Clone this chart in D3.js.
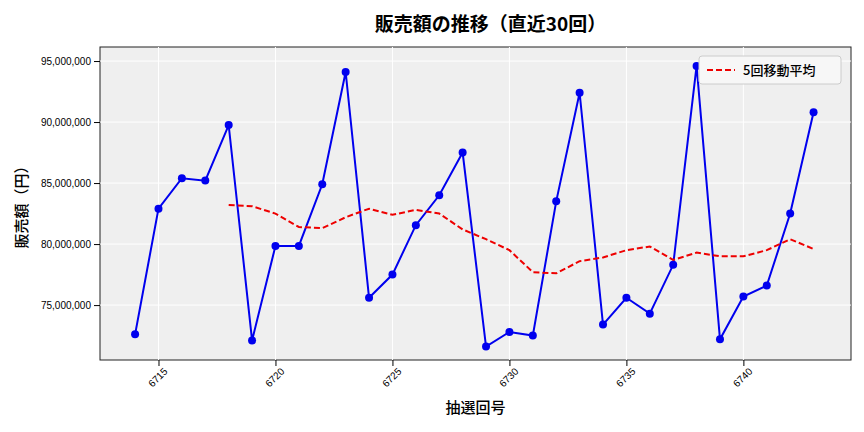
<!DOCTYPE html>
<html><head><meta charset="utf-8">
<script src="https://cdn.jsdelivr.net/npm/d3@7"></script>
<style>body{margin:0;background:#fff;font-family:"Noto Sans CJK JP","Noto Sans",sans-serif;}</style>
</head><body><div id="chart"></div>
<script>
const draws = d3.range(6714, 6744);
const sales = [72.6, 82.9, 85.4, 85.2, 89.75, 72.1, 79.85, 79.85, 84.9, 94.1,
  75.6, 77.5, 81.55, 84.0, 87.5, 71.6, 72.8, 72.5, 83.5, 92.4,
  73.4, 75.6, 74.3, 78.3, 94.6, 72.2, 75.7, 76.6, 82.5, 90.8].map(v => v * 1e6);
const maDraws = d3.range(6718, 6744);
const maValues = [83.2, 83.1, 82.5, 81.4, 81.3, 82.2, 82.9, 82.4, 82.8, 82.5,
  81.2, 80.4, 79.5, 77.7, 77.6, 78.6, 78.9, 79.5, 79.8, 78.7,
  79.3, 79.0, 79.0, 79.5, 80.4, 79.6].map(v => v * 1e6);
const xTicks = [6715, 6720, 6725, 6730, 6735, 6740];
const yTicks = [75e6, 80e6, 85e6, 90e6, 95e6];

const W = 864, H = 432, m = {l: 100, r: 13, t: 47, b: 72};
const svg = d3.select("#chart").append("svg").attr("width", W).attr("height", H);
const x = d3.scaleLinear().domain([6712.5, 6744.6]).range([m.l, W - m.r]);
const y = d3.scaleLinear().domain([70.5e6, 96.15e6]).range([H - m.b, m.t]);

svg.append("rect").attr("x", m.l).attr("y", m.t).attr("width", W - m.l - m.r)
  .attr("height", H - m.t - m.b).attr("fill", "#efefef").attr("stroke", "#222");

const g = svg.append("g");
g.selectAll(".gx").data(xTicks).join("line")
  .attr("x1", d => x(d)).attr("x2", d => x(d)).attr("y1", m.t).attr("y2", H - m.b)
  .attr("stroke", "#fff").attr("stroke-width", 1);
g.selectAll(".gy").data(yTicks).join("line")
  .attr("y1", d => y(d)).attr("y2", d => y(d)).attr("x1", m.l).attr("x2", W - m.r)
  .attr("stroke", "#fff").attr("stroke-width", 1);

const xa = svg.append("g").attr("transform", `translate(0,${H - m.b})`)
  .call(d3.axisBottom(x).tickValues(xTicks).tickFormat(d3.format("d")).tickSizeOuter(0));
xa.select(".domain").remove();
xa.selectAll("text").attr("font-size", 10).attr("fill", "#000").attr("text-anchor", "end")
  .attr("transform", "rotate(-45)").attr("dx", "-0.2em").attr("dy", "0.6em");
const ya = svg.append("g").attr("transform", `translate(${m.l},0)`)
  .call(d3.axisLeft(y).tickValues(yTicks).tickFormat(d3.format(",")).tickSizeOuter(0));
ya.select(".domain").remove();
ya.selectAll("text").attr("font-size", 10).attr("fill", "#000");

const line = d3.line().x(d => x(d[0])).y(d => y(d[1]));
const pts = draws.map((d, i) => [d, sales[i]]);
svg.append("path").datum(pts).attr("d", line).attr("fill", "none")
  .attr("stroke", "#0000ee").attr("stroke-width", 2);
svg.selectAll(".pt").data(pts).join("circle")
  .attr("cx", d => x(d[0])).attr("cy", d => y(d[1])).attr("r", 4).attr("fill", "#0000ee");
svg.append("path").datum(maDraws.map((d, i) => [d, maValues[i]])).attr("d", line)
  .attr("fill", "none").attr("stroke", "#ee0000").attr("stroke-width", 2)
  .attr("stroke-dasharray", "6,3");

// legend
const lg = svg.append("g").attr("transform", "translate(699,56)");
lg.append("rect").attr("width", 142).attr("height", 28).attr("rx", 3)
  .attr("fill", "#f7f7f7").attr("stroke", "#ccc");
lg.append("line").attr("x1", 8).attr("x2", 36).attr("y1", 14).attr("y2", 14)
  .attr("stroke", "#ee0000").attr("stroke-width", 2).attr("stroke-dasharray", "6,3");
lg.append("text").attr("x", 44).attr("y", 19).attr("font-size", 13).attr("font-weight", 500).text("5回移動平均");

svg.append("text").attr("x", (m.l + W - m.r) / 2 + 15).attr("y", 31).attr("text-anchor", "middle")
  .attr("font-size", 19).attr("font-weight", "bold").text("販売額の推移（直近30回）");
svg.append("text").attr("x", (m.l + W - m.r) / 2).attr("y", 413).attr("text-anchor", "middle")
  .attr("font-size", 15).attr("font-weight", 500).text("抽選回号");
svg.append("text").attr("transform", `translate(27,${(m.t + H - m.b) / 2}) rotate(-90)`)
  .attr("text-anchor", "middle").attr("font-size", 15).attr("font-weight", 500).text("販売額（円）");
</script></body></html>
